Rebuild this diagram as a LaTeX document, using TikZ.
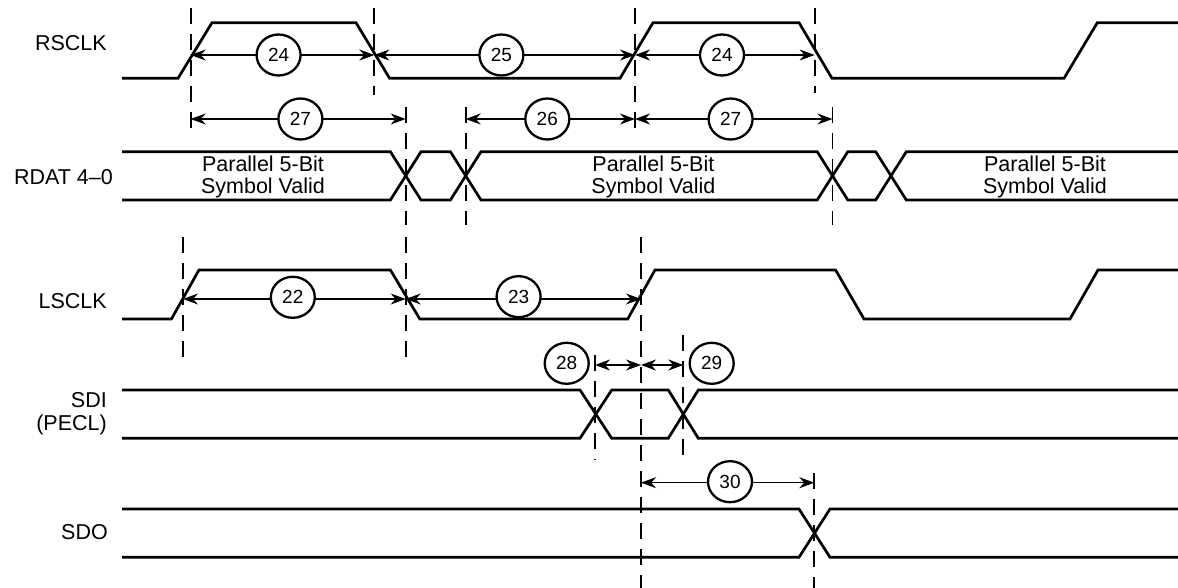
\documentclass[tikz,border=0pt]{standalone}
\usepackage{fontspec}
\setmainfont{Liberation Sans}
\usetikzlibrary{arrows.meta,shapes.geometric}
\begin{document}
\begin{tikzpicture}[x=1pt,y=-1pt,
  wave/.style={line width=2.7pt, line join=miter},
  guide/.style={line width=1.8pt, dash pattern=on 16pt off 10pt},
  dim/.style={line width=1.2pt, {Stealth[length=15pt,width=11pt]}-{Stealth[length=15pt,width=11pt]}},
  num/.style={ellipse, draw, line width=2.3pt, fill=white, minimum width=44pt, minimum height=41pt, inner sep=0pt, font=\fontsize{19}{19}\selectfont},
  sig/.style={anchor=east, font=\fontsize{21.5}{23}\selectfont, align=right, inner sep=0pt},
  txt/.style={font=\fontsize{21.5}{21.5}\selectfont, align=center, inner sep=0pt}]
\useasboundingbox (0,0) rectangle (1178,588);

% signal names
\node[sig] (nRS) at (107,42.7) {RSCLK};
\node[sig] (nRD) at (113,176.7) {RDAT 4--0};
\node[sig] (nLS) at (107,300.7) {LSCLK};
\node[sig] (nSDI) at (107,414) {SDI\\(PECL)};
\node[sig] (nSDO) at (108,531.7) {SDO};

% guide lines
\draw[guide] (190.7,8) -- (190.7,133);
\draw[guide] (374.3,8) -- (374.3,95);
\draw[guide] (405.7,107) -- (405.7,225);
\draw[guide] (465.7,107) -- (465.7,225);
\draw[guide] (635,8) -- (635,130);
\draw[guide] (814.6,8) -- (814.6,93);
\draw[guide] (832.5,107) -- (832.5,225);
\draw[guide] (183,237) -- (183,360);
\draw[guide] (405.7,237) -- (405.7,360);
\draw[guide] (641,237) -- (641,588);
\draw[guide] (595,355) -- (595,460);
\draw[guide] (683.3,335) -- (683.3,460);
\draw[guide] (814.3,473) -- (814.3,588);

% RSCLK
\draw[wave] (122,78.3) -- (178,78.3) -- (212,22.7) -- (356,22.7) -- (389.6,78.3) -- (620,78.3) -- (653,22.7) -- (799,22.7) -- (832,78.3) -- (1064,78.3) -- (1097.3,22.7) -- (1178,22.7);

% RDAT
\draw[wave] (122,151.7) -- (390.4,151.7) -- (421,200) -- (450.4,200) -- (481,151.7) -- (817.2,151.7) -- (847.8,200) -- (875.7,200) -- (906.3,151.7) -- (1178,151.7);
\draw[wave] (122,200) -- (390.4,200) -- (421,151.7) -- (450.4,151.7) -- (481,200) -- (817.2,200) -- (847.8,151.7) -- (875.7,151.7) -- (906.3,200) -- (1178,200);
\node[txt] (v1) at (263,177) {Parallel 5-Bit\\Symbol Valid};
\node[txt] (v2) at (653.4,177) {Parallel 5-Bit\\Symbol Valid};
\node[txt] (v3) at (1045,177) {Parallel 5-Bit\\Symbol Valid};

% LSCLK
\draw[wave] (122,319) -- (171.4,319) -- (199,270) -- (390.4,270) -- (419.8,319) -- (627.7,319) -- (655,270) -- (835.6,270) -- (864,319) -- (1070,319) -- (1098,270) -- (1178,270);

% SDI
\draw[wave] (122,390) -- (580,390) -- (611.7,438.3) -- (668.3,438.3) -- (698.3,390) -- (1178,390);
\draw[wave] (122,438.3) -- (580,438.3) -- (611.7,390) -- (668.3,390) -- (698.3,438.3) -- (1178,438.3);

% SDO
\draw[wave] (122,509) -- (799,509) -- (830,557.3) -- (1178,557.3);
\draw[wave] (122,557.3) -- (799,557.3) -- (830,509) -- (1178,509);

% dimension arrows
\draw[dim] (190.7,55) -- (374.3,55);
\draw[dim] (374.3,55) -- (635,55);
\draw[dim] (635,55) -- (814.6,55);
\draw[dim] (190.7,119) -- (405.7,119);
\draw[dim] (465.7,119) -- (635,119);
\draw[dim] (635,119) -- (832.5,119);
\draw[dim] (183,299) -- (405.7,299);
\draw[dim] (405.7,299) -- (641,299);
\draw[dim] (595,365) -- (641,365);
\draw[dim] (641,365) -- (683.3,365);
\draw[dim] (641,482.7) -- (814.3,482.7);

% numbers
\node[num] (c24a) at (278.6,55) {24};
\node[num] (c25) at (501.4,55) {25};
\node[num] (c24b) at (722,55) {24};
\node[num] (c27a) at (300.4,119) {27};
\node[num] (c26) at (547.3,119) {26};
\node[num] (c27b) at (730.6,119) {27};
\node[num] (c22) at (292.8,297.3) {22};
\node[num] (c23) at (518.6,296.7) {23};
\node[num] (c28) at (566.7,363.3) {28};
\node[num] (c29) at (711.7,363.3) {29};
\node[num] (c30) at (730,481.7) {30};
\end{tikzpicture}
\end{document}
